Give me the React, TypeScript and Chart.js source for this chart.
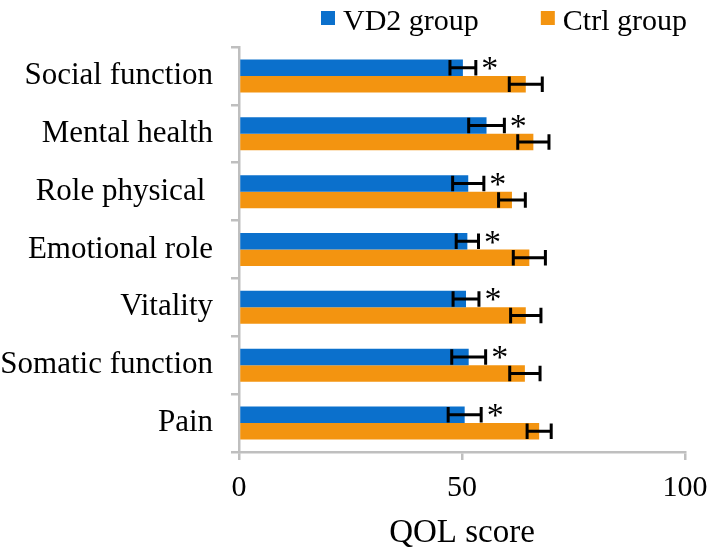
import React, { useEffect, useRef } from "react";
import { Chart, registerables } from "chart.js";

Chart.register(...registerables);

const categories = [
  "Social function",
  "Mental health",
  "Role physical ",
  "Emotional role",
  "Vitality",
  "Somatic function",
  "Pain",
];
const vd2Values = [50.2, 55.5, 51.4, 51.2, 50.9, 51.5, 50.6];
const vd2Errors = [2.9, 4.0, 3.5, 2.5, 2.9, 3.8, 3.7];
const ctrlValues = [64.3, 66.0, 61.2, 65.1, 64.3, 64.1, 67.3];
const ctrlErrors = [3.7, 3.5, 3.0, 3.6, 3.4, 3.4, 2.7];
const significant = [true, true, true, true, true, true, true];
const xTickValues = [0, 50, 100];
const seriesLabels = ["VD2 group", "Ctrl group"];

const FONT_FAMILY = "'Liberation Serif', 'Times New Roman', serif";
const AXIS_GRAY = "#BFBFBF";

const errorBarPlugin = {
  id: "errorBars",
  afterDatasetsDraw(chart: any) {
    const ctx = chart.ctx;
    const xs = chart.scales.x;
    chart.data.datasets.forEach((ds: any, di: number) => {
      const meta = chart.getDatasetMeta(di);
      meta.data.forEach((bar: any, i: number) => {
        const v = ds.data[i];
        const e = ds.errors[i];
        const x1 = xs.getPixelForValue(v - e);
        const x2 = xs.getPixelForValue(v + e);
        const y = bar.y;
        const h = bar.height - 1;
        ctx.save();
        ctx.strokeStyle = "#000";
        ctx.lineWidth = 3;
        ctx.beginPath();
        ctx.moveTo(x1, y);
        ctx.lineTo(x2, y);
        ctx.moveTo(x1, y - h / 2);
        ctx.lineTo(x1, y + h / 2);
        ctx.moveTo(x2, y - h / 2);
        ctx.lineTo(x2, y + h / 2);
        ctx.stroke();
        ctx.restore();
      });
    });
    // significance asterisks next to the VD2 error bars
    const meta0 = chart.getDatasetMeta(0);
    const ds0 = chart.data.datasets[0];
    ctx.save();
    ctx.fillStyle = "#000";
    ctx.font = `34px ${FONT_FAMILY}`;
    ctx.textAlign = "center";
    ctx.textBaseline = "alphabetic";
    meta0.data.forEach((bar: any, i: number) => {
      if (!significant[i]) return;
      const xe = xs.getPixelForValue(ds0.data[i] + ds0.errors[i]);
      ctx.fillText("*", xe + 14, bar.y + bar.height / 2 + 3);
    });
    ctx.restore();
  },
};

const legendPlugin = {
  id: "customLegend",
  afterDraw(chart: any) {
    const ctx = chart.ctx;
    ctx.save();
    ctx.font = `30px ${FONT_FAMILY}`;
    ctx.textBaseline = "alphabetic";
    ctx.textAlign = "left";
    let x = 321;
    chart.data.datasets.forEach((ds: any) => {
      ctx.fillStyle = ds.backgroundColor;
      ctx.fillRect(x, 11, 14, 14);
      ctx.fillStyle = "#000";
      ctx.fillText(ds.label, x + 22, 30);
      x += 22 + ctx.measureText(ds.label).width + 62;
    });
    ctx.restore();
  },
};

export default function App() {
  const canvasRef = useRef<HTMLCanvasElement | null>(null);

  useEffect(() => {
    if (!canvasRef.current) return;
    const tickFont = { family: FONT_FAMILY, size: 31 };
    const chart = new Chart(canvasRef.current, {
      type: "bar",
      data: {
        labels: categories,
        datasets: [
          {
            label: seriesLabels[0],
            data: vd2Values,
            errors: vd2Errors,
            backgroundColor: "#0B70CC",
            categoryPercentage: 0.57,
            barPercentage: 1,
          } as any,
          {
            label: seriesLabels[1],
            data: ctrlValues,
            errors: ctrlErrors,
            backgroundColor: "#F39410",
            categoryPercentage: 0.57,
            barPercentage: 1,
          } as any,
        ],
      },
      options: {
        indexAxis: "y",
        animation: false,
        responsive: false,
        maintainAspectRatio: false,
        layout: { padding: { top: 47, right: 24, left: 0, bottom: 0 } },
        plugins: {
          legend: { display: false },
          tooltip: { enabled: false },
        },
        scales: {
          x: {
            min: 0,
            max: 100,
            afterBuildTicks: (s: any) => {
              s.ticks = xTickValues.map((v) => ({ value: v }));
            },
            grid: {
              drawOnChartArea: false,
              drawTicks: true,
              tickLength: 8,
              color: AXIS_GRAY,
              lineWidth: 2.5,
            },
            border: { color: AXIS_GRAY, width: 2.5 },
            ticks: { font: { family: FONT_FAMILY, size: 30 }, color: "#000", padding: 10, maxRotation: 0 },
            title: {
              display: true,
              text: "QOL score",
              font: { family: FONT_FAMILY, size: 33 },
              color: "#000",
              padding: { top: 0, bottom: 0 },
            },
            afterFit: (s: any) => {
              s.height = 101;
              s.paddingLeft = 0;
              s.paddingRight = 0;
            },
          },
          y: {
            grid: {
              drawOnChartArea: false,
              drawTicks: true,
              tickLength: 8,
              color: AXIS_GRAY,
              lineWidth: 2.5,
            },
            border: { color: AXIS_GRAY, width: 2.5 },
            ticks: { font: tickFont, color: "#000", padding: 18 },
            afterFit: (s: any) => {
              s.width = 239;
            },
          },
        },
      } as any,
      plugins: [errorBarPlugin, legendPlugin],
    });
    return () => chart.destroy();
  }, []);

  return (
    <div style={{ position: "absolute", left: 0, top: 0, width: 709, height: 553, background: "#fff" }}>
      <canvas ref={canvasRef} width={709} height={553} style={{ width: 709, height: 553 }} />
    </div>
  );
}
